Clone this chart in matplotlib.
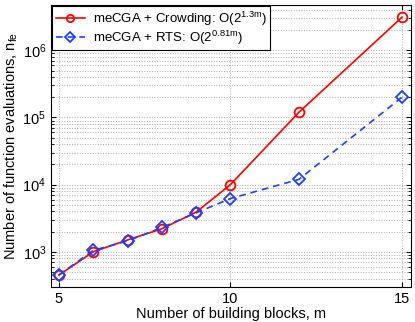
import matplotlib.pyplot as plt

m_values = [5, 6, 7, 8, 9, 10, 12, 15]
crowding = [450, 1000, 1500, 2200, 3900, 10000, 120000, 3100000]
rts = [450, 1050, 1450, 2300, 3800, 6200, 12000, 200000]

plt.rcParams['font.family'] = ['Liberation Sans', 'DejaVu Sans']
plt.rcParams['mathtext.fontset'] = 'custom'
plt.rcParams['mathtext.rm'] = 'Liberation Sans'
plt.rcParams['mathtext.it'] = 'Liberation Sans'

fig = plt.figure(figsize=(4.15, 3.22), dpi=100)
ax = fig.add_axes([0.123, 0.109, 0.867, 0.875])

ax.plot(m_values, crowding, color='red', linestyle='-', linewidth=1.2,
        marker='o', markersize=7, markerfacecolor='none', markeredgewidth=1.3,
        label=r'meCGA + Crowding: O(2$^{\mathrm{1.3m}}$)')
ax.plot(m_values, rts, color='#1f3fff', linestyle=(0, (4, 3)), linewidth=1.2,
        marker='D', markersize=6.5, markerfacecolor='none', markeredgewidth=1.3,
        label=r'meCGA + RTS: O(2$^{\mathrm{0.81m}}$)')

ax.set_yscale('log')
ax.set_xlim(4.77, 15.26)
ax.set_ylim(300, 4.7e6)
ax.set_xticks([5, 10, 15])
ax.grid(True, which='major', linestyle=':', color='#aaaaaa', linewidth=0.7)
ax.grid(True, which='minor', axis='y', linestyle=':', color='#aaaaaa', linewidth=0.7)
ax.tick_params(which='both', direction='in', top=True, right=True, labelsize=10.5)

ax.set_xlabel('Number of building blocks, m', fontsize=10.5, labelpad=1)
ax.set_ylabel(r'Number of function evaluations, n$_{\mathrm{fe}}$', fontsize=10.5, labelpad=2)

leg = ax.legend(loc='upper left', fontsize=9.5, fancybox=False, framealpha=1,
                edgecolor='black', borderaxespad=0.1, handlelength=2.2,
                labelspacing=0.05, borderpad=0.25, handletextpad=0.6, markerscale=0.75)
leg.get_frame().set_linewidth(0.8)

plt.savefig('out.png', dpi=100)
